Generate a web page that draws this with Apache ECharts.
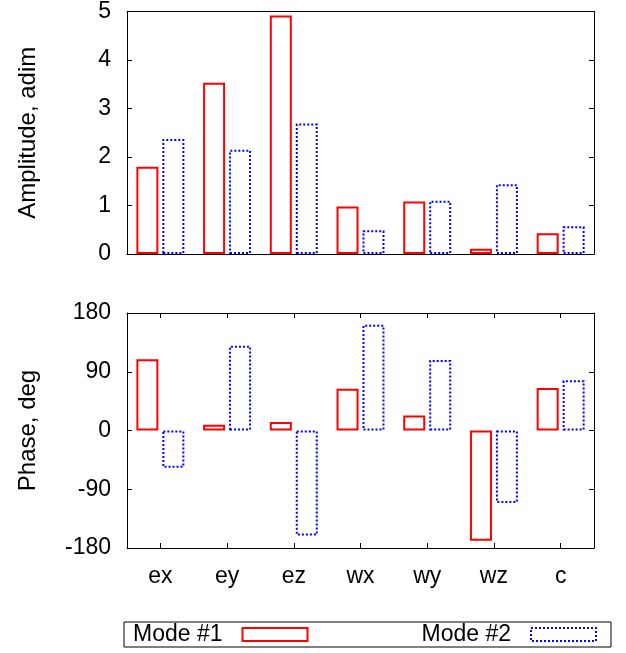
<!DOCTYPE html>
<html>
<head>
<meta charset="utf-8">
<script src="https://cdn.jsdelivr.net/npm/echarts@6/dist/echarts.min.js"></script>
<style>
  html, body { margin: 0; padding: 0; background: #fff; }
  #chart { width: 626px; height: 653px; }
</style>
</head>
<body>
<div id="chart"></div>
<script>
// data
const categories = ["ex", "ey", "ez", "wx", "wy", "wz", "c"];
const amp1 = [1.80, 3.53, 4.92, 0.98, 1.08, 0.11, 0.43];
const amp2 = [2.37, 2.15, 2.69, 0.49, 1.10, 1.44, 0.57];
const phase1 = [109, 9, 13, 64, 23, -169, 65];
const phase2 = [-57, 130, -161, 162, 108, -111, 77];
const ampTicks = [0, 1, 2, 3, 4, 5];
const phaseTicks = [-180, -90, 0, 90, 180];

const FONT = "Liberation Sans, Arial, sans-serif";
const RED = "#ff0000";
const BLUE = "#0000ff";

const redStyle = { color: "transparent", borderColor: RED, borderWidth: 2, borderType: "solid" };
const blueStyle = { color: "transparent", borderColor: BLUE, borderWidth: 2, borderType: "dotted" };

let chart = echarts.init(document.getElementById("chart"));

function frameX(gridIndex, position, showLabels) {
  return {
    type: "category",
    gridIndex: gridIndex,
    position: position,
    data: categories,
    boundaryGap: true,
    axisLine: { show: true, onZero: false, lineStyle: { color: "#000", width: 1 } },
    axisTick: { show: gridIndex === 1, inside: true, length: 5, alignWithLabel: true, lineStyle: { color: "#000" } },
    axisLabel: { show: showLabels, color: "#000", fontSize: 23, fontFamily: FONT, margin: 17 },
    splitLine: { show: false }
  };
}

function frameY(gridIndex, position, min, max, interval, showLabels, name) {
  return {
    type: "value",
    gridIndex: gridIndex,
    position: position,
    min: min,
    max: max,
    interval: interval,
    name: name,
    nameLocation: "middle",
    nameGap: 87,
    nameTextStyle: { color: "#000", fontSize: 24, fontFamily: FONT },
    axisLine: { show: true, lineStyle: { color: "#000", width: 1 } },
    axisTick: { show: true, inside: true, length: 5, lineStyle: { color: "#000" } },
    axisLabel: { show: showLabels, color: "#000", fontSize: 23, fontFamily: FONT, margin: 16 },
    splitLine: { show: false }
  };
}

chart.setOption({
  backgroundColor: "#fff",
  animation: false,
  textStyle: { fontFamily: FONT },
  grid: [
    { left: 127, top: 10, width: 467, height: 244 },
    { left: 127, top: 313, width: 467, height: 235 }
  ],
  xAxis: [
    frameX(0, "bottom", false),
    frameX(0, "top", false),
    frameX(1, "bottom", true),
    frameX(1, "top", false)
  ],
  yAxis: [
    frameY(0, "left", ampTicks[0], ampTicks[ampTicks.length - 1], 1, true, "Amplitude, adim"),
    frameY(0, "right", ampTicks[0], ampTicks[ampTicks.length - 1], 1, false, ""),
    frameY(1, "left", phaseTicks[0], phaseTicks[phaseTicks.length - 1], 90, true, "Phase, deg"),
    frameY(1, "right", phaseTicks[0], phaseTicks[phaseTicks.length - 1], 90, false, "")
  ],
  legend: {
    left: 124,
    top: 622,
    orient: "horizontal",
    align: "right",
    icon: "rect",
    itemWidth: 65,
    itemHeight: 13,
    itemGap: 113,
    padding: [1, 14, 1, 9],
    borderColor: "#000",
    borderWidth: 1,
    backgroundColor: "#fff",
    textStyle: { color: "#000", fontSize: 23, fontFamily: FONT, padding: [0, 15, 0, 0] },
    data: [
      { name: "Mode #1", itemStyle: redStyle },
      { name: "Mode #2", itemStyle: blueStyle }
    ]
  },
  series: [
    { name: "Mode #1", type: "bar", xAxisIndex: 0, yAxisIndex: 0, data: amp1,
      barWidth: 22, barGap: "18%", itemStyle: redStyle },
    { name: "Mode #2", type: "bar", xAxisIndex: 0, yAxisIndex: 0, data: amp2,
      barWidth: 22, barGap: "18%", itemStyle: blueStyle },
    { name: "Mode #1", type: "bar", xAxisIndex: 2, yAxisIndex: 2, data: phase1,
      barWidth: 22, barGap: "18%", itemStyle: redStyle },
    { name: "Mode #2", type: "bar", xAxisIndex: 2, yAxisIndex: 2, data: phase2,
      barWidth: 22, barGap: "18%", itemStyle: blueStyle }
  ]
});
</script>
</body>
</html>
